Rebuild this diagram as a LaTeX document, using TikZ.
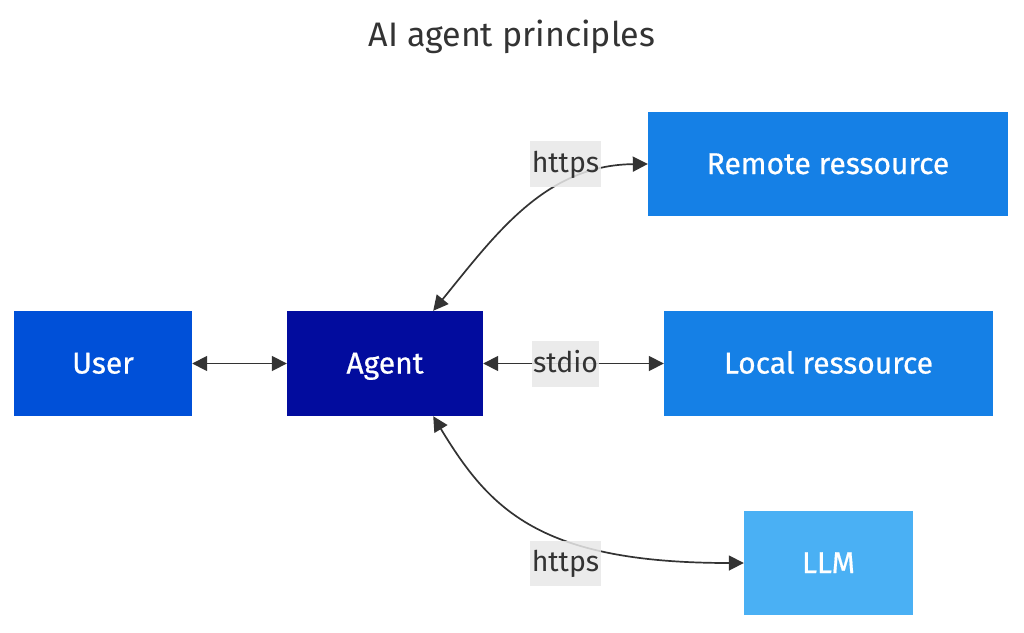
\documentclass[tikz,border=0pt]{standalone}
\usepackage{fontspec}
\setmainfont{Fira Sans}
\newfontfamily\nodefont[FakeBold=0.6]{Fira Sans}
\usetikzlibrary{arrows.meta}
\definecolor{cUser}{HTML}{0050D8}
\definecolor{cAgent}{HTML}{020C9E}
\definecolor{cRes}{HTML}{1580E6}
\definecolor{cLLM}{HTML}{4AB0F4}
\definecolor{cLine}{HTML}{333333}
\definecolor{cLabel}{HTML}{E8E8E8}
\begin{document}
\begin{tikzpicture}[x=1pt,y=-1pt,
  box/.style={rectangle,inner sep=0pt,text=white,font=\nodefont\fontsize{30}{34}\selectfont,text height=23pt,text depth=3pt},
  lab/.style={rectangle,inner sep=0pt,fill=cLabel,fill opacity=0.85,text opacity=1,text=cLine,font=\fontsize{28.5}{32}\selectfont,text height=21pt,text depth=5pt},
  link/.style={draw=cLine,line width=1.7pt,{Triangle[length=15pt,width=15pt]}-{Triangle[length=15pt,width=15pt]}}]
\useasboundingbox (0,0) rectangle (1024,632);
\node[font=\fontsize{34}{40}\selectfont,text=cLine] (title) at (512,37) {AI agent principles};
\node[box,fill=cUser,minimum width=178pt,minimum height=105pt] (user) at (103,363.5) {User};
\node[box,fill=cAgent,minimum width=196pt,minimum height=105pt] (agent) at (385,363.5) {Agent};
\node[box,fill=cRes,minimum width=360pt,minimum height=104pt] (remote) at (828,164) {Remote ressource};
\node[box,fill=cRes,minimum width=329pt,minimum height=105pt] (local) at (828.5,363.5) {Local ressource};
\node[box,fill=cLLM,minimum width=169pt,minimum height=104pt] (llm) at (828.5,563) {LLM};
\draw[link] (user.east) -- (agent.west);
\draw[link] (agent.east) -- (local.west);
\draw[link] ([xshift=-50pt]agent.north east) .. controls (495,235) and (545,165) .. (remote.west);
\draw[link] ([xshift=-50pt]agent.south east) .. controls (490,510) and (540,563) .. (llm.west);
\node[lab,minimum width=71pt,minimum height=46pt] (l1) at (565.5,164) {https};
\node[lab,minimum width=67pt,minimum height=46pt] (l2) at (565.5,364) {stdio};
\node[lab,minimum width=71pt,minimum height=45pt] (l3) at (565.5,563.5) {https};
\end{tikzpicture}
\end{document}
